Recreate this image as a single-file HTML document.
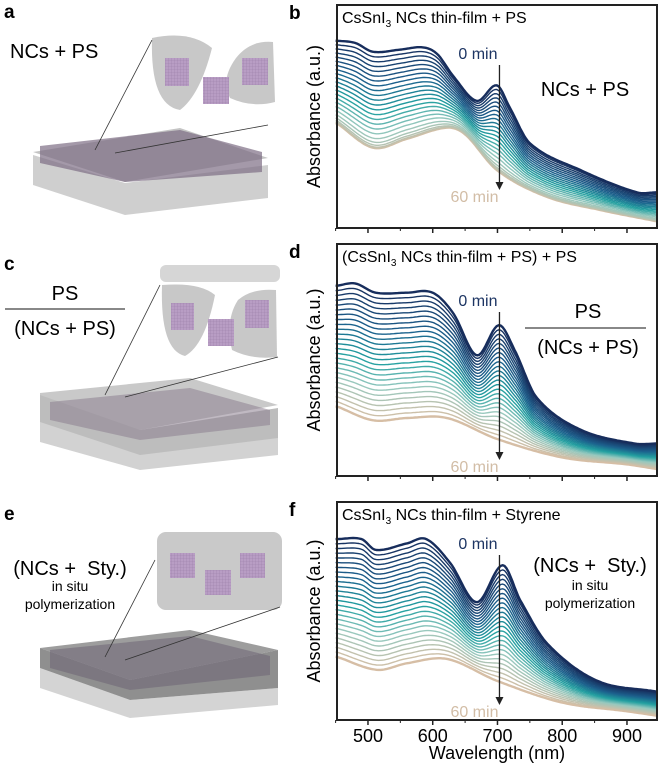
<!DOCTYPE html>
<html><head><meta charset="utf-8">
<style>
html,body{margin:0;padding:0;background:#fff;}
svg{display:block;font-family:"Liberation Sans",sans-serif;}
</style></head>
<body>
<svg id="fig" width="661" height="767" viewBox="0 0 661 767" xmlns="http://www.w3.org/2000/svg">
<defs>
<pattern id="grid" width="3" height="3" patternUnits="userSpaceOnUse"><rect width="3" height="3" fill="#b89dc4"/><path d="M0 0H3M0 0V3" stroke="#9c7fa9" stroke-width="0.6"/></pattern>
</defs>

<!-- Panel a -->
<g>
<text x="4" y="18" font-size="19" font-weight="bold">a</text>
<text x="10" y="58" font-size="20">NCs + PS</text>
<polygon points="33,155 125,183 268,165 268,198 125,215 33,185" fill="#cfcfcf"/>
<polygon points="33,152 180,128 268,158 125,182" fill="#c4c4c4"/>
<polygon points="40,146 180,130 262,152 262,172 125,182 40,163" fill="#7d6e84" opacity="0.7"/>
<path d="M152,38 Q190,30 212,48 Q200,95 180,110 Q150,105 152,38Z" fill="#c8c8c8"/>
<path d="M236,58 Q250,40 273,42 L275,102 Q252,108 230,98 Q220,80 236,58Z" fill="#c8c8c8"/>
<rect x="165" y="58" width="24" height="28" fill="url(#grid)"/>
<rect x="203" y="77" width="26" height="27" fill="url(#grid)"/>
<rect x="242" y="58" width="26" height="27" fill="url(#grid)"/>
<line x1="95" y1="150" x2="152" y2="40" stroke="#333" stroke-width="0.8"/>
<line x1="115" y1="153" x2="268" y2="125" stroke="#333" stroke-width="0.8"/>
</g>

<!-- Panel c -->
<g>
<text x="4" y="270" font-size="19" font-weight="bold">c</text>
<text x="65" y="300" font-size="20" text-anchor="middle">PS</text>
<line x1="5" y1="309" x2="125" y2="309" stroke="#888" stroke-width="2"/>
<text x="65" y="335" font-size="20" text-anchor="middle">(NCs + PS)</text>
<polygon points="40,420 140,450 278,435 278,455 140,470 40,442" fill="#d2d2d2"/>
<polygon points="40,393 190,378 278,405 140,430 40,410" fill="#c9c9c9"/>
<polygon points="40,395 140,430 278,408 278,438 140,455 40,422" fill="#bdbdbd"/>
<polygon points="50,402 190,388 270,410 270,425 140,440 50,420" fill="#8c8090" opacity="0.55"/>
<rect x="160" y="265" width="120" height="17" rx="6" fill="#d6d6d6"/>
<path d="M162,285 Q200,282 215,295 Q205,345 185,356 Q160,350 162,285Z" fill="#c8c8c8"/>
<path d="M238,300 Q252,288 276,290 L277,357 Q252,360 232,350 Q225,320 238,300Z" fill="#c8c8c8"/>
<rect x="171" y="303" width="23" height="27" fill="url(#grid)"/>
<rect x="208" y="319" width="26" height="27" fill="url(#grid)"/>
<rect x="245" y="300" width="24" height="28" fill="url(#grid)"/>
<line x1="105" y1="395" x2="160" y2="285" stroke="#333" stroke-width="0.8"/>
<line x1="125" y1="397" x2="278" y2="357" stroke="#333" stroke-width="0.8"/>
</g>

<!-- Panel e -->
<g>
<text x="4" y="520" font-size="19" font-weight="bold">e</text>
<text x="70" y="575" font-size="20" text-anchor="middle" xml:space="preserve">(NCs +  Sty.)</text>
<text x="70" y="591" font-size="14" text-anchor="middle">in situ</text>
<text x="70" y="609" font-size="14" text-anchor="middle">polymerization</text>
<polygon points="40,668 130,700 278,688 278,705 130,718 40,688" fill="#d4d4d4"/>
<polygon points="40,648 190,630 278,650 130,680" fill="#9d9d9d"/>
<polygon points="40,648 130,680 278,650 278,688 130,700 40,668" fill="#8f8f8f"/>
<polygon points="50,650 190,636 270,656 270,675 130,690 50,668" fill="#6e6474" opacity="0.55"/>
<rect x="157" y="532" width="125" height="78" rx="9" fill="#c9c9c9"/>
<rect x="170" y="553" width="25" height="25" fill="url(#grid)"/>
<rect x="205" y="570" width="26" height="25" fill="url(#grid)"/>
<rect x="240" y="553" width="25" height="25" fill="url(#grid)"/>
<line x1="105" y1="657" x2="155" y2="560" stroke="#333" stroke-width="0.8"/>
<line x1="125" y1="660" x2="280" y2="607" stroke="#333" stroke-width="0.8"/>
</g>

<g id="charts"></g>
</svg>
<script>
// wavelength anchors (nm) and absorbance (normalized 0..1) for 0 min and 60 min
const bWl0=[452,480,508,550,585,607,632,668,699,719,750,828,915,946];
const bAbs0=[0.84,0.83,0.79,0.80,0.81,0.78,0.68,0.57,0.64,0.54,0.38,0.26,0.16,0.16];
const bWl60=[452,508,560,622,650,699,776,860,946];
const bAbs60=[0.47,0.36,0.40,0.45,0.42,0.26,0.14,0.08,0.03];
const bWeights=[0,0.05,0.1,0.15,0.2,0.25,0.3,0.35,0.4,0.45,0.5,0.55,0.6,0.65,0.7,0.75,0.8,0.85,0.9,0.94,0.97,0.99,1,1];

const dWl0=[452,480,512,560,600,632,668,702,727,760,828,912,946];
const dAbs0=[0.82,0.83,0.79,0.79,0.79,0.70,0.52,0.65,0.54,0.34,0.20,0.14,0.14];
const dWl60=[452,508,560,622,699,800,900,946];
const dAbs60=[0.30,0.24,0.25,0.25,0.16,0.08,0.05,0.03];
const dWeights=[0,0.04,0.08,0.12,0.16,0.2,0.24,0.28,0.32,0.36,0.4,0.44,0.48,0.52,0.56,0.6,0.64,0.68,0.72,0.76,0.8,0.84,0.88,0.92,0.96,1];

const fWl0=[452,490,512,560,590,627,668,708,735,777,854,946];
const fAbs0=[0.83,0.83,0.78,0.81,0.83,0.72,0.54,0.71,0.55,0.35,0.18,0.13];
const fWl60=[452,514,560,622,699,800,900,946];
const fAbs60=[0.29,0.23,0.26,0.28,0.18,0.08,0.04,0.02];
const fWeights=[0,0.04,0.08,0.12,0.16,0.2,0.24,0.28,0.32,0.36,0.4,0.44,0.48,0.52,0.56,0.6,0.64,0.68,0.72,0.76,0.8,0.84,0.88,0.92,0.96,1];

const xTicks=[500,600,700,800,900];
const xMinor=[450,550,650,750,850];

const NS="http://www.w3.org/2000/svg";
const root=document.getElementById('charts');
function mk(tag,attrs,parent){const e=document.createElementNS(NS,tag);for(const k in attrs)e.setAttribute(k,attrs[k]);(parent||root).appendChild(e);return e;}
// Catmull-Rom style smooth interpolation through anchors
function interp(xs,ys,x){
  const n=xs.length;
  if(x<=xs[0])return ys[0];
  if(x>=xs[n-1])return ys[n-1];
  let i=1;while(x>xs[i])i++;
  const x0=xs[i-1],x1=xs[i],y0=ys[i-1],y1=ys[i];
  const h=x1-x0,t=(x-x0)/h;
  const m0=i-2>=0?(y1-ys[i-2])/(x1-xs[i-2]):(y1-y0)/h;
  const m1=i+1<n?(ys[i+1]-y0)/(xs[i+1]-x0):(y1-y0)/h;
  const t2=t*t,t3=t2*t;
  return (2*t3-3*t2+1)*y0+(t3-2*t2+t)*h*m0+(-2*t3+3*t2)*y1+(t3-t2)*h*m1;
}
const stops=[[0,[23,45,92]],[0.3,[28,95,140]],[0.55,[34,160,160]],[0.75,[150,200,190]],[1,[214,190,165]]];
function col(f){for(let i=1;i<stops.length;i++){if(f<=stops[i][0]){const t=(f-stops[i-1][0])/(stops[i][0]-stops[i-1][0]);const a=stops[i-1][1],b=stops[i][1];return 'rgb('+a.map((v,j)=>Math.round(v+(b[j]-v)*t)).join(',')+')';}}return 'rgb(214,190,165)';}

const X0=337,X1=657;
const xs=nm=>335.6+(nm-450)*0.6475;

function panel(o){
  const g=mk('g',{});
  
  
  const ys=a=>o.bot-(o.bot-o.top)*a;
  const lab=mk('text',{x:289,y:o.top+14,'font-size':19,'font-weight':'bold'},g);lab.textContent=o.id;
  
  
  const yt=mk('text',{x:0,y:0,'font-size':18,'text-anchor':'middle',transform:'translate(320,'+((o.top+o.bot)/2)+') rotate(-90)'},g);
  yt.textContent='Absorbance (a.u.)';
  
  
  const cg=mk('g',{},g);
  
  
  const n=o.w.length;
  for(let k=n-1;k>=0;k--){
    const w=o.w[k];let d='';
    for(let nm=450;nm<=946;nm+=3){
      const a=(1-w)*interp(o.wl0,o.a0,nm)+w*interp(o.wl60,o.a60,nm);
      d+=(nm===450?'M':'L')+xs(nm).toFixed(1)+','+ys(a).toFixed(1);
    }
    const last=k===n-1;
    const p=mk('path',{d:d,fill:'none',stroke:col(k/(n-1)),'stroke-width':(k===0||last)?2.4:1.4,'stroke-linejoin':'round'},cg);
    
    
  }
  const box=mk('rect',{x:X0,y:o.top,width:X1-X0,height:o.bot-o.top,fill:'none',stroke:'#222','stroke-width':2},g);
  
  
  xTicks.forEach(v=>{const t=mk('line',{x1:xs(v),x2:xs(v),y1:o.bot,y2:o.bot+5,stroke:'#222','stroke-width':1.5},g);
    
    
    if(o.labels){const tl=mk('text',{x:xs(v),y:o.bot+22,'font-size':18,'text-anchor':'middle'},g);tl.textContent=v;
      
      }});
  xMinor.forEach(v=>{const t=mk('line',{x1:xs(v),x2:xs(v),y1:o.bot,y2:o.bot+3,stroke:'#222','stroke-width':1},g);
    
    });
  const title=mk('text',{x:342,y:o.top+18,'font-size':16},g);
  title.innerHTML=o.title;
  
  
  const ax=xs(700)+2;
  const ar=mk('line',{x1:ax,x2:ax,y1:o.arTop,y2:o.arBot-7,stroke:'#222','stroke-width':1.3},g);
  
  
  const ah=mk('polygon',{points:(ax-4)+','+(o.arBot-8)+' '+(ax+4)+','+(o.arBot-8)+' '+ax+','+o.arBot,fill:'#222'},g);
  
  
  const t0=mk('text',{x:ax-2,y:o.arTop-6,'font-size':16,'text-anchor':'end',fill:'#1d3563'},g);t0.textContent='0 min';
  
  
  const t6=mk('text',{x:ax-1,y:o.arBot+12,'font-size':16,'text-anchor':'end',fill:'#d2bda6'},g);t6.textContent='60 min';
  
  
  o.extra(g);
}

panel({id:'b',top:5,bot:228,wl0:bWl0,a0:bAbs0,wl60:bWl60,a60:bAbs60,w:bWeights,arTop:65,arBot:190,labels:false,
 title:'CsSnI<tspan font-size="10" dy="4">3</tspan><tspan dy="-4"> NCs thin-film + PS</tspan>',
 extra:g=>{const t=mk('text',{x:585,y:96,'font-size':20,'text-anchor':'middle'},g);t.textContent='NCs + PS';
  
  }});
panel({id:'d',top:244,bot:476,wl0:dWl0,a0:dAbs0,wl60:dWl60,a60:dAbs60,w:dWeights,arTop:312,arBot:460,labels:false,
 title:'(CsSnI<tspan font-size="10" dy="4">3</tspan><tspan dy="-4"> NCs thin-film + PS) + PS</tspan>',
 extra:g=>{const a=mk('text',{x:588,y:318,'font-size':20,'text-anchor':'middle'},g);a.textContent='PS';
  
  
  const l=mk('line',{x1:525,x2:646,y1:328,y2:328,stroke:'#888','stroke-width':2},g);
  
  
  const b=mk('text',{x:588,y:354,'font-size':20,'text-anchor':'middle'},g);b.textContent='(NCs + PS)';
  
  }});
panel({id:'f',top:502,bot:720,wl0:fWl0,a0:fAbs0,wl60:fWl60,a60:fAbs60,w:fWeights,arTop:555,arBot:705,labels:true,
 title:'CsSnI<tspan font-size="10" dy="4">3</tspan><tspan dy="-4"> NCs thin-film + Styrene</tspan>',
 extra:g=>{const a=mk('text',{x:590,y:572,'font-size':20,'text-anchor':'middle'},g);a.textContent='(NCs +\u00a0 Sty.)';
  
  
  const b=mk('text',{x:590,y:590,'font-size':14,'text-anchor':'middle'},g);b.textContent='in situ';
  
  
  const c=mk('text',{x:590,y:608,'font-size':14,'text-anchor':'middle'},g);c.textContent='polymerization';
  
  
  const x=mk('text',{x:497,y:759,'font-size':18,'text-anchor':'middle'},g);x.textContent='Wavelength (nm)';
  
  }});
</script>
</body></html>
